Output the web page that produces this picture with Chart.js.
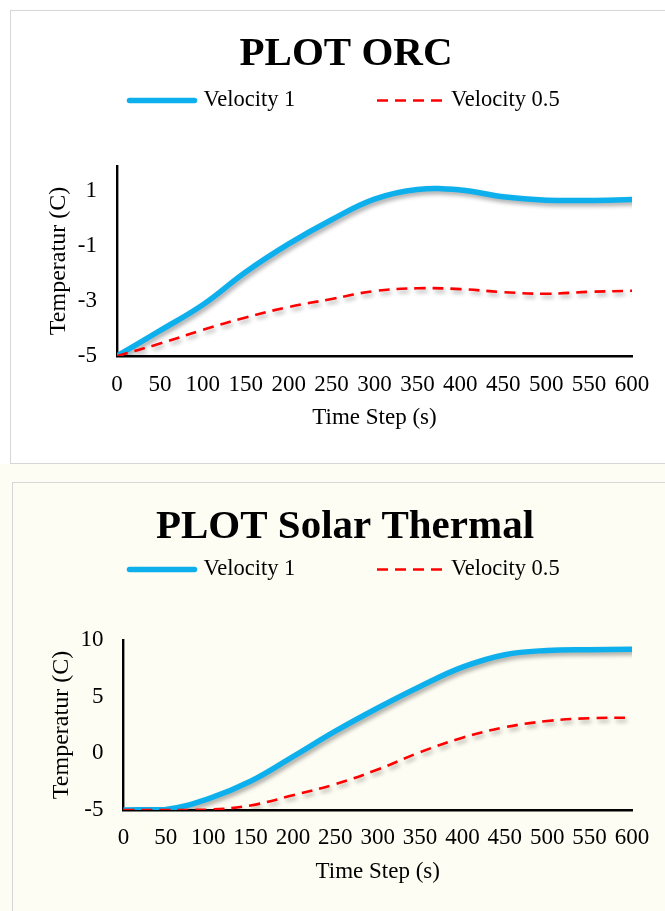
<!DOCTYPE html>
<html>
<head>
<meta charset="utf-8">
<script src="https://cdn.jsdelivr.net/npm/chart.js@4.4.1/dist/chart.umd.min.js"></script>
<style>
  html, body { margin: 0; padding: 0; width: 665px; height: 911px; overflow: hidden; background: #ffffff; }
  #bgBottom { position: absolute; left: 0; top: 464px; width: 665px; height: 447px; background: #fdfdf3; }
  .box { position: absolute; border: 1px solid #d6d6d6; box-sizing: border-box; }
  #box1 { left: 10px; top: 10px; width: 700px; height: 454px; background: #ffffff; }
  #box2 { left: 12px; top: 482px; width: 700px; height: 500px; background: #fdfdf3; }
  canvas { position: absolute; left: 0; }
  #c1 { top: 0; }
  #c2 { top: 470px; }
</style>
</head>
<body>
<div id="bgBottom"></div>
<div class="box" id="box1"></div>
<div class="box" id="box2"></div>
<canvas id="c1" width="665" height="470"></canvas>
<canvas id="c2" width="665" height="441"></canvas>
<script>
// ---------- data ----------
const timeSteps = [0, 50, 100, 150, 200, 250, 300, 350, 400, 450, 500, 550, 600];
const seriesNames = ['Velocity 1', 'Velocity 0.5'];

const orcVelocity1  = [-5, -4.08, -3.14, -1.95, -0.93, -0.05, 0.70, 1.05, 1.03, 0.78, 0.66, 0.65, 0.68];
const orcVelocity05 = [-5, -4.55, -4.05, -3.60, -3.22, -2.93, -2.64, -2.54, -2.57, -2.68, -2.74, -2.67, -2.63];

const solarVelocity1  = [-5, -4.95, -4.02, -2.47, -0.30, 1.95, 4.00, 5.90, 7.60, 8.70, 9.08, 9.15, 9.18];
const solarVelocity05 = [-5, -5.00, -4.97, -4.60, -3.70, -2.72, -1.43, 0.10, 1.38, 2.30, 2.85, 3.10, 3.15];

const orcYTicks   = [-5, -3, -1, 1];
const solarYTicks = [-5, 0, 5, 10];
const xTicks = timeSteps;

const chartTitles = ['PLOT ORC', 'PLOT Solar Thermal'];
const xAxisTitle = 'Time Step (s)';
const yAxisTitle = 'Temperatur (C)';

// ---------- styling ----------
const SERIF = "'Liberation Serif', 'Times New Roman', Times, serif";
const BLUE = '#0DB0EC';
const RED = '#FF0000';

const lineShadow = {
  id: 'lineShadow',
  beforeDatasetDraw(chart) {
    const c = chart.ctx;
    c.save();
    c.shadowColor = 'rgba(0,0,0,0.33)';
    c.shadowBlur = 4;
    c.shadowOffsetX = 2;
    c.shadowOffsetY = 3;
  },
  afterDatasetDraw(chart) {
    chart.ctx.restore();
  }
};

const lineLegend = {
  id: 'lineLegend',
  afterDraw(chart, args, opts) {
    const ctx = chart.ctx;
    chart.data.datasets.forEach((ds, i) => {
      const x0 = opts.starts[i];
      const y = opts.y;
      ctx.save();
      ctx.strokeStyle = ds.borderColor;
      ctx.lineWidth = ds.borderWidth;
      ctx.setLineDash(ds.borderDash || []);
      ctx.lineCap = ds.borderCapStyle || 'butt';
      ctx.beginPath();
      ctx.moveTo(x0, y);
      ctx.lineTo(x0 + opts.sampleWidth, y);
      ctx.stroke();
      ctx.setLineDash([]);
      ctx.fillStyle = '#000';
      ctx.font = opts.font;
      ctx.textBaseline = 'middle';
      ctx.textAlign = 'left';
      ctx.fillText(ds.label, x0 + opts.sampleWidth + opts.gap, y);
      ctx.restore();
    });
  }
};

function toPoints(values) {
  return timeSteps.map((t, i) => ({ x: t, y: values[i] }));
}

function makeChart(canvasId, cfg) {
  return new Chart(document.getElementById(canvasId), {
    type: 'line',
    data: {
      datasets: [
        {
          label: seriesNames[0],
          data: toPoints(cfg.v1),
          borderColor: BLUE,
          borderWidth: 5.5,
          borderCapStyle: 'round',
          borderJoinStyle: 'round',
          tension: 0.4,
          pointRadius: 0,
          fill: false,
          order: 1
        },
        {
          label: seriesNames[1],
          data: toPoints(cfg.v05),
          borderColor: RED,
          borderWidth: 2.6,
          borderDash: [11, 7],
          tension: 0.4,
          pointRadius: 0,
          fill: false,
          order: 0
        }
      ]
    },
    options: {
      responsive: false,
      animation: false,
      devicePixelRatio: 1,
      layout: { padding: { left: cfg.padLeft, right: 33, top: 0, bottom: 0 } },
      plugins: {
        legend: { display: false },
        tooltip: { enabled: false },
        title: {
          display: true,
          text: cfg.title,
          color: '#000',
          font: { family: SERIF, size: 41, weight: 'bold' },
          padding: { top: cfg.titleTop, bottom: cfg.titleBottom }
        },
        lineLegend: {
          starts: [129.5, 377],
          sampleWidth: 65,
          gap: 9,
          y: cfg.legendY,
          font: '22.5px ' + SERIF
        }
      },
      scales: {
        x: {
          type: 'linear',
          min: 0,
          max: 600,
          afterBuildTicks: (s) => { s.ticks = xTicks.map(v => ({ value: v })); },
          afterFit: (s) => { s.height = cfg.xHeight; },
          grid: { display: false, drawTicks: false },
          border: { display: true, color: '#000', width: 2.6 },
          ticks: {
            autoSkip: false,
            maxRotation: 0,
            color: '#000',
            padding: cfg.xTickPad,
            font: { family: SERIF, size: 23 }
          },
          title: {
            display: true,
            text: xAxisTitle,
            color: '#000',
            font: { family: SERIF, size: 23 },
            padding: { top: 0, bottom: cfg.xTitleBottom }
          }
        },
        y: {
          type: 'linear',
          min: -5,
          max: cfg.yMax,
          afterBuildTicks: (s) => { s.ticks = cfg.yTicks.map(v => ({ value: v })); },
          afterFit: (s) => { s.width = cfg.yWidth; },
          grid: { display: false, drawTicks: false },
          border: { display: true, color: '#000', width: 2.4 },
          ticks: {
            color: '#000',
            padding: 20,
            font: { family: SERIF, size: 23 }
          },
          title: {
            display: true,
            text: yAxisTitle,
            color: '#000',
            font: { family: SERIF, size: 24 },
            padding: { top: cfg.yTitleTop, bottom: 0 }
          }
        }
      }
    },
    plugins: [lineShadow, lineLegend]
  });
}

makeChart('c1', {
  title: chartTitles[0],
  v1: orcVelocity1,
  v05: orcVelocity05,
  yTicks: orcYTicks,
  yMax: 1.9,
  padLeft: 60,
  yWidth: 57,
  yTitleTop: -15.4,
  titleTop: 29.4,
  titleBottom: 87.4,
  legendY: 100.5,
  xHeight: 114,
  xTickPad: 15.2,
  xTitleBottom: 38.2
});

makeChart('c2', {
  title: chartTitles[1],
  v1: solarVelocity1,
  v05: solarVelocity05,
  yTicks: solarYTicks,
  yMax: 10,
  padLeft: 58,
  yWidth: 65.4,
  yTitleTop: -10.9,
  titleTop: 32.4,
  titleBottom: 88.4,
  legendY: 99.5,
  xHeight: 101,
  xTickPad: 14.2,
  xTitleBottom: 25.2
});
</script>
</body>
</html>
